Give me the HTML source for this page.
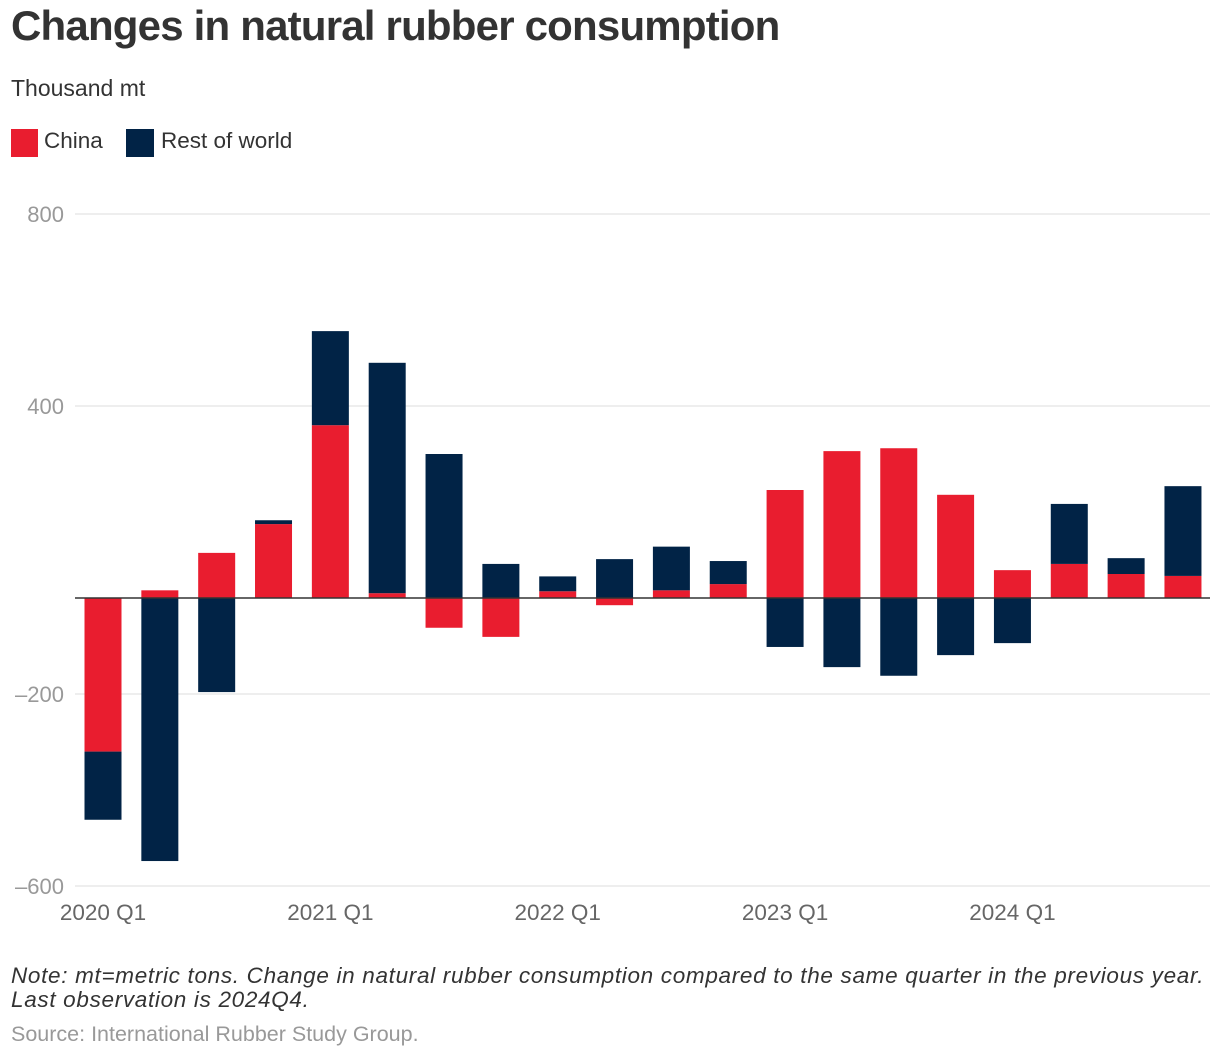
<!DOCTYPE html>
<html><head><meta charset="utf-8"><style>
body{margin:0;background:#fff;width:1220px;height:1058px;overflow:hidden;font-family:"Liberation Sans",sans-serif;position:relative}
.t{position:absolute;white-space:nowrap}
</style></head><body>
<div class="t" style="left:11px;top:2px;font-size:42px;font-weight:bold;color:#333;letter-spacing:-0.8px">Changes in natural rubber consumption</div>
<div class="t" style="left:11px;top:75px;font-size:23px;color:#333">Thousand mt</div>
<div>
<div class="t" style="left:11px;top:129px;width:27px;height:28px;background:#e91d2f"></div>
<div class="t" style="left:44px;top:128px;font-size:22.5px;color:#333">China</div>
<div class="t" style="left:126px;top:129px;width:28px;height:28px;background:#012346"></div>
<div class="t" style="left:161px;top:128px;font-size:22.5px;color:#333">Rest of world</div>
</div>
<svg id="chart" width="1220" height="1058" style="position:absolute;left:0;top:0"></svg>
<div class="t" style="left:11px;top:964px;font-size:22.5px;letter-spacing:0.68px;font-style:italic;color:#333;line-height:24px">Note: mt=metric tons. Change in natural rubber consumption compared to the same quarter in the previous year.<br>Last observation is 2024Q4.</div>
<div class="t" style="left:11px;top:1022px;font-size:21.5px;color:#999">Source: International Rubber Study Group.</div>
<script>
const categories=["2020Q1","2020Q2","2020Q3","2020Q4","2021Q1","2021Q2","2021Q3","2021Q4","2022Q1","2022Q2","2022Q3","2022Q4","2023Q1","2023Q2","2023Q3","2023Q4","2024Q1","2024Q2","2024Q3","2024Q4"];
const china=[-320,16,94,154,360,10,-62,-81,14,-15,16,29,225,306,312,215,58,71,50,46];
const rest=[-142,-548,-196,8,196,480,300,71,31,81,91,48,-102,-144,-162,-119,-94,125,33,187];
const yTicks=[800,400,-200,-600];
const xTickLabels=["2020 Q1","2021 Q1","2022 Q1","2023 Q1","2024 Q1"];
const NS="http://www.w3.org/2000/svg";
const svg=document.getElementById('chart');
const y=v=>598-v*0.48;
const x=i=>103+i*56.84;
const bw=37;
function mk(tag,attrs){const e=document.createElementNS(NS,tag);for(const k in attrs)e.setAttribute(k,attrs[k]);svg.appendChild(e);return e;}
yTicks.forEach(v=>{
 const l=mk('line',{x1:75,x2:1210,y1:y(v),y2:y(v),stroke:'#ddd','stroke-width':1});
 
 
 const t=mk('text',{x:64,y:y(v)+8,'text-anchor':'end','font-size':22,fill:'#999','font-family':'Liberation Sans, sans-serif'});
 t.textContent=(v<0?'\u2013'+(-v):v);
 
 
});
categories.forEach((c,i)=>{
 let pos=0,neg=0;
 [[china[i],'#e91d2f','china'],[rest[i],'#012346','rest']].forEach(([v,col,n])=>{
  let y0,y1;
  if(v>=0){y0=y(pos+v);y1=y(pos);pos+=v;}else{y0=y(neg);y1=y(neg+v);neg+=v;}
  const r=mk('rect',{x:x(i)-bw/2,y:y0,width:bw,height:Math.max(0,y1-y0),fill:col});
  
  
 });
});
const z=mk('line',{x1:75,x2:1210,y1:y(0),y2:y(0),stroke:'#333','stroke-width':1.5});


xTickLabels.forEach((s,k)=>{
 const t=mk('text',{x:x(k*4),y:920,'text-anchor':'middle','font-size':22.5,fill:'#666','font-family':'Liberation Sans, sans-serif'});
 t.textContent=s;
 
 
});
</script>
</body></html>
